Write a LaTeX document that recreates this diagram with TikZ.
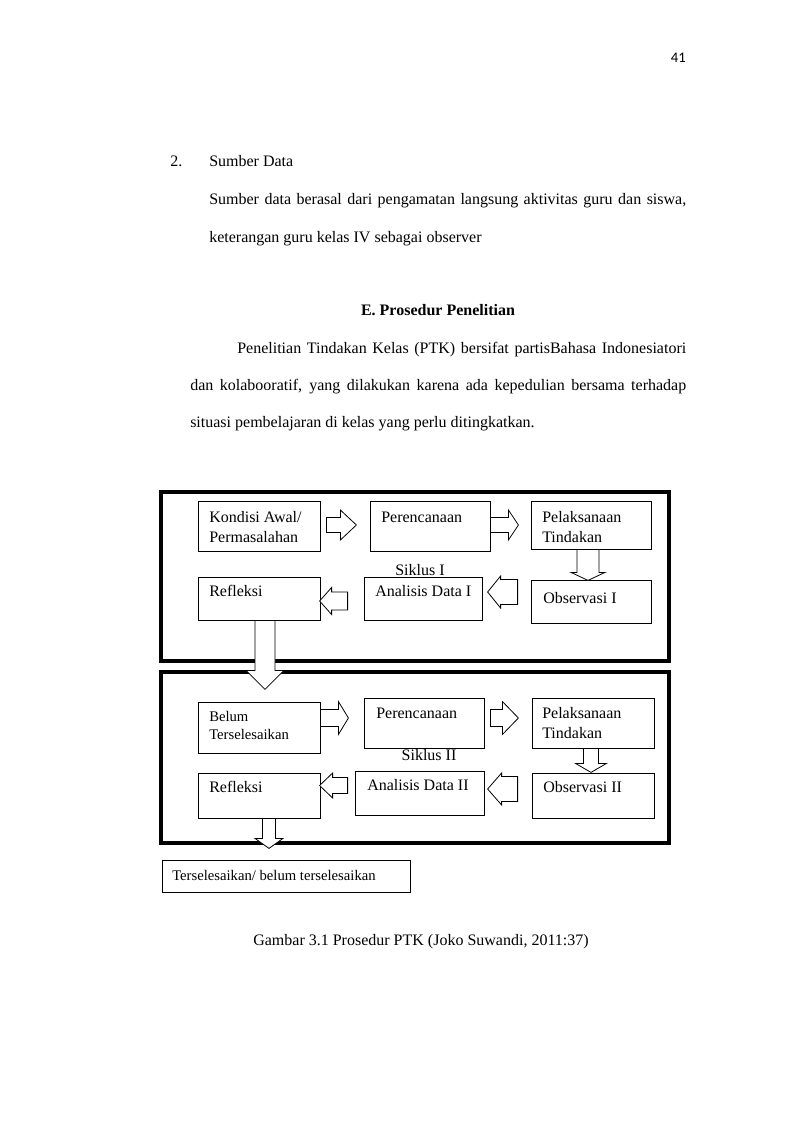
\documentclass[tikz,border=0pt]{standalone}
\usepackage{fontspec}
\setmainfont{Liberation Serif}
\newfontfamily\pagenumfont{Carlito}
\usetikzlibrary{fit,calc}
\tikzset{
  box/.style={draw, line width=0.6pt, inner sep=0pt},
  frame/.style={draw, line width=3pt, inner sep=0pt},
  txt/.style={anchor=base west, inner sep=0pt, font=\fontsize{12}{15}\selectfont},
  smalltxt/.style={txt, font=\fontsize{11}{14}\selectfont},
  blockarr/.style={draw, fill=white, line width=0.6pt, line join=miter},
}
% block arrow: tail, angle, length, head width, shaft width, head length
\newcommand{\blockarrow}[6]{%
  \draw[blockarr, shift={#1}, rotate=#2] (0,-#5/2) -- (#3-#6,-#5/2) -- (#3-#6,-#4/2)
    -- (#3,0) -- (#3-#6,#4/2) -- (#3-#6,#5/2) -- (0,#5/2) -- cycle;}

\begin{document}
\begin{tikzpicture}[x=0.75pt, y=-0.75pt]
    \useasboundingbox[fill=white] (0,0) rectangle (800,1132);

    % page text
    \node[anchor=base east, inner sep=0pt, font=\pagenumfont\fontsize{11}{13}\selectfont] (pagenum) at (686,62) {41};
    \node[txt] (num) at (170,166) {2.};
    \node[txt] (sumber) at (209,166) {Sumber Data};
    \node[txt] (par1a) at (209,204) {\makebox[357.75pt][s]{Sumber data berasal dari pengamatan langsung aktivitas guru dan siswa,}};
    \node[txt] (par1b) at (209,242) {keterangan guru kelas IV sebagai observer};
    \node[txt, anchor=base, font=\fontsize{12}{15}\selectfont\bfseries] (judul) at (438,315) {E. Prosedur Penelitian};
    \node[txt] (par2a) at (237,353) {\makebox[336.75pt][s]{Penelitian Tindakan Kelas (PTK) bersifat partisBahasa Indonesiatori}};
    \node[txt] (par2b) at (190,390) {\makebox[372pt][s]{dan kolabooratif, yang dilakukan karena ada kepedulian bersama terhadap}};
    \node[txt] (par2c) at (190,427) {situasi pembelajaran di kelas yang perlu ditingkatkan.};

    % frames of the two cycles
    \node[frame, fit={(161,492) (669,661)}] (siklus1) {};
    \node[frame, fit={(161,672) (669,843)}] (siklus2) {};

    % cycle I
    \node[box, fit={(198,501) (320,551)}] (kondisi1) {};
    \node[box, fit={(370,501) (490,551)}] (rencana1) {};
    \node[box, fit={(531,501) (651,549)}] (laksana1) {};
    \node[box, fit={(198,577) (320,620)}] (refleksi1) {};
    \node[box, fit={(364,577) (482,620)}] (analisis1) {};
    \node[box, fit={(531,580) (651,623)}] (observasi1) {};

    \node[txt, text width=100pt, align=flush left] (kondisi1-t) at (209,522) {Kondisi Awal/\\Permasalahan};
    \node[txt] (rencana1-t) at (381,522) {Perencanaan};
    \node[txt, text width=80pt, align=flush left] (laksana1-t) at (542,522) {Pelaksanaan\\Tindakan};
    \node[txt, anchor=base] (siklus1-t) at (420,575) {Siklus I};
    \node[txt] (refleksi1-t) at (209,596) {Refleksi};
    \node[txt] (analisis1-t) at (375,596) {Analisis Data I};
    \node[txt] (observasi1-t) at (543,603) {Observasi I};

    \blockarrow{($(kondisi1.east)+(6,-1)$)}{0}{30}{30}{15}{16}
    \blockarrow{($(rencana1.east)+(0,-1)$)}{0}{28}{30}{15}{10}
    \blockarrow{($(laksana1.south)+(-3,0)$)}{-90}{31}{34}{22}{8}
    \blockarrow{($(observasi1.west)+(-13,-9.5)$)}{180}{30}{32}{25}{13}
    \blockarrow{($(analisis1.west)+(-16,2.5)$)}{180}{28}{27}{18}{12}
    \blockarrow{($(refleksi1.south)+(6,0)$)}{-90}{69}{38}{20}{19}

    % cycle II
    \node[box, fit={(198,702) (320,753)}] (belum2) {};
    \node[box, fit={(364,698) (484,748)}] (rencana2) {};
    \node[box, fit={(532,698) (654,748)}] (laksana2) {};
    \node[box, fit={(198,773) (320,818)}] (refleksi2) {};
    \node[box, fit={(355,771) (484,815)}] (analisis2) {};
    \node[box, fit={(532,773) (654,818)}] (observasi2) {};

    \node[smalltxt, text width=90pt, align=flush left] (belum2-t) at (209,721) {Belum\\Terselesaikan};
    \node[txt] (rencana2-t) at (376,718) {Perencanaan};
    \node[txt, text width=80pt, align=flush left] (laksana2-t) at (542,718) {Pelaksanaan\\Tindakan};
    \node[txt, anchor=base] (siklus2-t) at (429,760) {Siklus II};
    \node[txt] (refleksi2-t) at (209,792) {Refleksi};
    \node[txt] (analisis2-t) at (367,790) {Analisis Data II};
    \node[txt] (observasi2-t) at (543,792) {Observasi II};

    \blockarrow{($(belum2.east)+(0,-9.5)$)}{0}{28}{33}{17}{10}
    \blockarrow{($(rencana2.east)+(6,-5)$)}{0}{28}{33}{17}{16}
    \blockarrow{($(laksana2.south)+(-2,0)$)}{-90}{24}{31}{15}{9}
    \blockarrow{($(observasi2.west)+(-14,-6.5)$)}{180}{30}{32}{25}{14}
    \blockarrow{($(analisis2.west)+(-7,-7.5)$)}{180}{28}{25}{16}{13}
    \blockarrow{($(refleksi2.south)+(10,0)$)}{-90}{30}{28}{13}{10}

    % result
    \node[box, fit={(162,860) (410,892)}] (hasil) {};
    \node[smalltxt] (hasil-t) at (172,880) {Terselesaikan/ belum terselesaikan};

    \node[txt, anchor=base] (caption) at (421,945) {Gambar 3.1 Prosedur PTK (Joko Suwandi, 2011:37)};
\end{tikzpicture}
\end{document}
